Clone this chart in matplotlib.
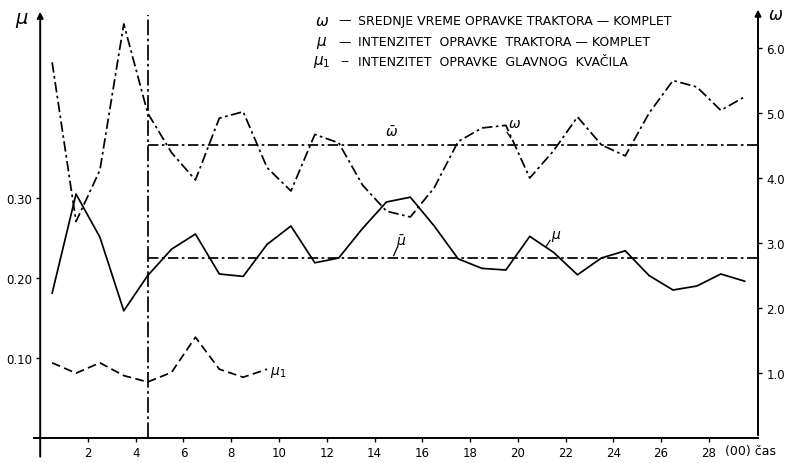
import matplotlib
matplotlib.use("Agg")
import matplotlib.pyplot as plt

# ---- data ----
t = [0.5, 1.5, 2.5, 3.5, 4.5, 5.5, 6.5, 7.5, 8.5, 9.5,
     10.5, 11.5, 12.5, 13.5, 14.5, 15.5, 16.5, 17.5, 18.5, 19.5,
     20.5, 21.5, 22.5, 23.5, 24.5, 25.5, 26.5, 27.5, 28.5, 29.5]
omega = [5.78, 3.33, 4.12, 6.37, 5.00, 4.39, 3.97, 4.92, 5.02, 4.16,
         3.80, 4.67, 4.54, 3.89, 3.49, 3.40, 3.85, 4.56, 4.77, 4.81,
         4.00, 4.42, 4.94, 4.51, 4.34, 5.00, 5.50, 5.40, 5.04, 5.25]
mu = [0.181, 0.305, 0.251, 0.159, 0.203, 0.236, 0.255, 0.205, 0.202, 0.242,
      0.265, 0.219, 0.225, 0.262, 0.295, 0.301, 0.265, 0.224, 0.212, 0.210,
      0.252, 0.232, 0.204, 0.225, 0.234, 0.203, 0.185, 0.190, 0.205, 0.196]
t1 = [0.5, 1.5, 2.5, 3.5, 4.5, 5.5, 6.5, 7.5, 8.5, 9.5]
mu1 = [0.094, 0.081, 0.094, 0.078, 0.070, 0.082, 0.126, 0.086, 0.076, 0.086]

omega_mean = 4.50
mu_mean = 0.225
t_split = 4.5

xticks = [2, 4, 6, 8, 10, 12, 14, 16, 18, 20, 22, 24, 26, 28]
mu_ticks = [0.10, 0.20, 0.30]
mu_ticklabels = ["0.10", "0.20", "0.30"]
om_ticks = [1.0, 2.0, 3.0, 4.0, 5.0, 6.0]
om_ticklabels = ["1.0", "2.0", "3.0", "4.0", "5.0", "6.0"]

legend_syms = [r"$\omega$", r"$\mu$", r"$\mu_1$"]
legend_marks = ["—", "—", "--"]
legend_texts = ["SREDNJE VREME OPRAVKE TRAKTORA — KOMPLET",
                "INTENZITET  OPRAVKE  TRAKTORA — KOMPLET",
                "INTENZITET  OPRAVKE  GLAVNOG  KVAČILA"]

# ---- figure ----
W, H = 785, 464
fig = plt.figure(figsize=(W / 100, H / 100), dpi=100)
L, R, B, T = 40.2, 758, 439, 10
ax = fig.add_axes([L / W, 1 - B / H, (R - L) / W, (B - T) / H])
ax2 = ax.twinx()

xmax = (R - L) / 23.88
ax.set_xlim(0, xmax)
ax.set_ylim(0, (B - T) / 800)
ax2.set_ylim(0, (B - T) / 65)

for a in (ax, ax2):
    for s in a.spines.values():
        s.set_visible(False)
    a.patch.set_visible(False)

dashdot = (0, (6, 2, 1.5, 2))
k = "black"
LW = 1.25

ax2.plot(t, omega, color=k, lw=LW, linestyle=dashdot)
ax.plot(t, mu, color=k, lw=LW)
ax.plot(t1, mu1, color=k, lw=LW, linestyle=(0, (5, 2.5)))

ax2.plot([t_split, xmax], [omega_mean, omega_mean], color=k, lw=LW, linestyle=dashdot)
ax.plot([t_split, xmax], [mu_mean, mu_mean], color=k, lw=LW, linestyle=dashdot)
ax.axvline(t_split, ymin=0, ymax=0.985, color=k, lw=LW, linestyle=(0, (9, 2, 1.5, 2)))

# ticks
ax.set_xticks(xticks)
ax.set_xticklabels([str(v) for v in xticks], fontsize=8.5)
ax.set_yticks(mu_ticks)
ax.set_yticklabels(mu_ticklabels, fontsize=8.5)
ax2.set_yticks(om_ticks)
ax2.set_yticklabels(om_ticklabels, fontsize=8.5)
ax.tick_params(axis="both", direction="out", length=3, width=1, pad=3)
ax2.tick_params(axis="y", direction="out", length=3, width=1, pad=3)

# axis lines with arrows
ax.plot([-0.008, 1.0], [0, 0], transform=ax.transAxes, color=k, lw=1.4, clip_on=False)
ax.annotate("", xy=(0, 1.0), xytext=(0, -0.05), xycoords="axes fraction",
            arrowprops=dict(arrowstyle="-|>", lw=1.4, color=k, mutation_scale=9))
ax.annotate("", xy=(1.0, 1.005), xytext=(1.0, 0), xycoords="axes fraction",
            arrowprops=dict(arrowstyle="-|>", lw=1.4, color=k, mutation_scale=9))

def fx(px):
    return px / W

def fy(py):
    return 1 - py / H

fig.text(fx(22), fy(20), r"$\mu$", fontsize=14, ha="center", va="center")
fig.text(fx(776), fy(15), r"$\omega$", fontsize=12, ha="center", va="center")
fig.text(fx(725), fy(452), "(00) čas", fontsize=9, ha="left", va="center")

ys = [21, 43, 62]
for s, m, txt, y in zip(legend_syms, legend_marks, legend_texts, ys):
    fig.text(fx(322), fy(y), s, fontsize=11, ha="center", va="center")
    fig.text(fx(345), fy(y), m, fontsize=9, ha="center", va="center")
    fig.text(fx(358), fy(y), txt, fontsize=9, ha="left", va="center")

# line labels
ax2.text(14.73, 4.72, r"$\bar{\omega}$", fontsize=10, ha="center", va="center")
ax2.text(19.85, 4.85, r"$\omega$", fontsize=10, ha="center", va="center")
ax2.plot([19.55, 19.7], [4.70, 4.62], color=k, lw=0.9)
ax.text(15.1, 0.246, r"$\bar{\mu}$", fontsize=10, ha="center", va="center")
ax.plot([14.8, 14.95], [0.228, 0.238], color=k, lw=0.9)
ax.text(21.6, 0.253, r"$\mu$", fontsize=10, ha="center", va="center")
ax.plot([21.2, 21.35], [0.24, 0.247], color=k, lw=0.9)
ax.text(9.95, 0.083, r"$\mu_1$", fontsize=10, ha="center", va="center")

fig.savefig("out.png", dpi=100, facecolor="white")
